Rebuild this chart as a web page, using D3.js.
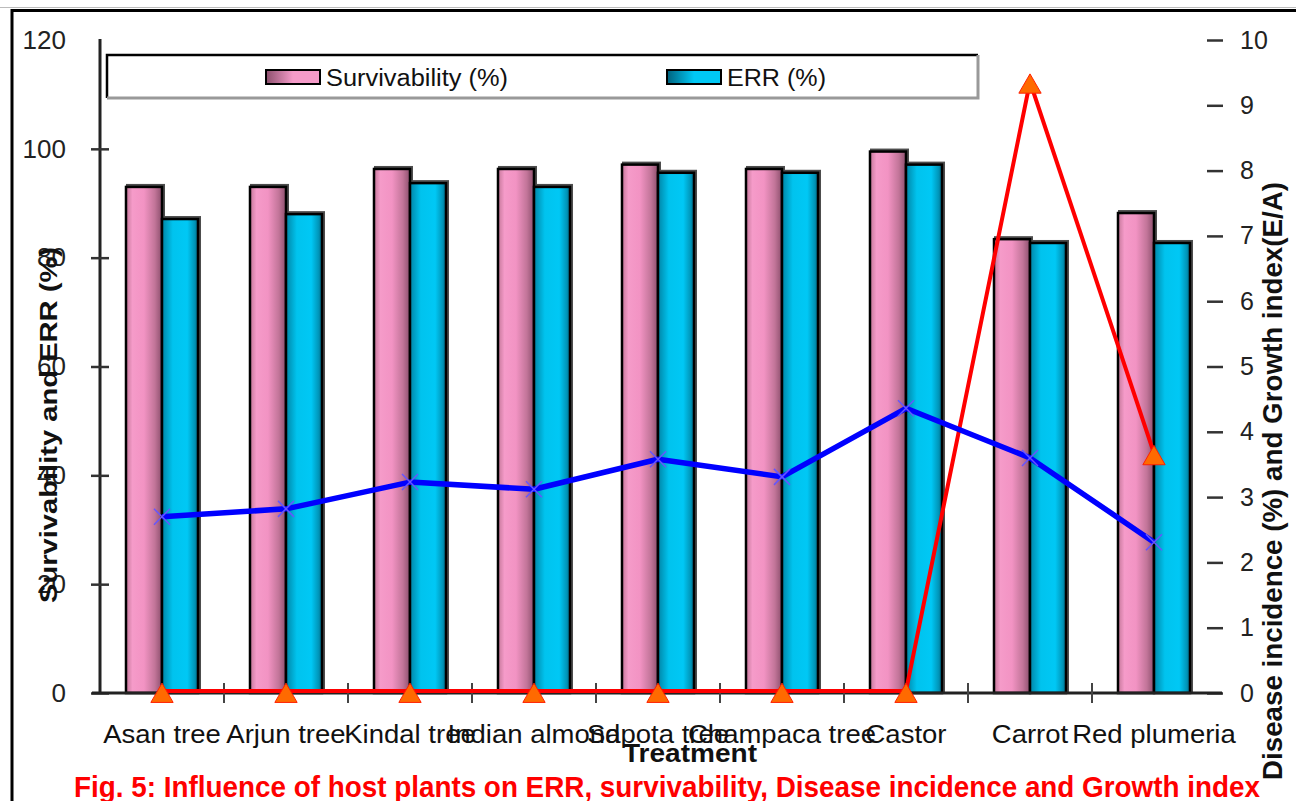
<!DOCTYPE html>
<html>
<head>
<meta charset="utf-8">
<script src="https://cdn.jsdelivr.net/npm/d3@7/dist/d3.min.js"></script>
<style>
  html, body { margin: 0; padding: 0; background: #fff; }
  svg { display: block; font-family: Arial, "Liberation Sans", sans-serif; }
</style>
</head>
<body>
<svg id="chart" width="1296" height="801"></svg>
<script>
// Host plants tested
const categories = ["Asan tree", "Arjun tree", "Kindal tree", "Indian almond", "Sapota tree",
                    "Champaca tree", "Castor", "Carrot", "Red plumeria"];
// Bars, left axis (%)
const survivability = [93.0, 93.0, 96.3, 96.3, 97.1, 96.3, 99.5, 83.4, 88.2];
const errRate       = [87.1, 88.0, 93.7, 93.0, 95.6, 95.6, 97.1, 82.7, 82.7];
// Lines, right axis
const diseaseIncidence = [0, 0, 0, 0, 0, 0, 0, 9.33, 3.64];
const growthIndex      = [2.70, 2.82, 3.23, 3.12, 3.58, 3.31, 4.36, 3.60, 2.31];
// Axis ticks
const leftTicks  = [0, 20, 40, 60, 80, 100, 120];
const rightTicks = [0, 1, 2, 3, 4, 5, 6, 7, 8, 9, 10];
const seriesNames = ["Survivability (%)", "ERR (%)"];

const svg = d3.select("#chart");
const defs = svg.append("defs");

// Stretch text horizontally to mimic the wide lettering
function stretch(sel, k) {
  sel.each(function () {
    const w = this.getComputedTextLength();
    d3.select(this).attr("textLength", w * k).attr("lengthAdjust", "spacingAndGlyphs");
  });
}

// Bar shading gradients
function shade(id, stops) {
  const g = defs.append("linearGradient").attr("id", id)
    .attr("x1", 0).attr("y1", 0).attr("x2", 1).attr("y2", 0);
  stops.forEach(([o, c]) => g.append("stop").attr("offset", o).attr("stop-color", c));
}
shade("gPink", [[0, "#c47799"], [0.18, "#f59bc9"], [0.5, "#f293c3"], [0.8, "#c27599"], [1, "#8c4f6d"]]);
shade("gCyan", [[0, "#0085a6"], [0.3, "#00c3ee"], [0.7, "#00c8f5"], [0.9, "#0097bb"], [1, "#006a86"]]);
shade("gPinkLeg", [[0, "#8c4f6d"], [0.5, "#f59bc9"], [1, "#f59bc9"]]);
shade("gCyanLeg", [[0, "#00617c"], [0.5, "#00c8f5"], [1, "#00c8f5"]]);

// Outer frame
svg.append("line").attr("x1", 0).attr("x2", 1296).attr("y1", 7.5).attr("y2", 7.5)
  .attr("stroke", "#bbb").attr("stroke-width", 1);
svg.append("rect").attr("x", 12).attr("y", 10.5).attr("width", 1400).attr("height", 900)
  .attr("fill", "none").attr("stroke", "#000").attr("stroke-width", 3);

// Scales
const x0 = d3.scaleBand().domain(categories).range([100, 1216]);
const x1 = d3.scaleBand().domain(seriesNames).range([0, x0.bandwidth()]).paddingOuter(0.722);
const yL = d3.scaleLinear().domain([0, 120]).range([693, 40]);
const yR = d3.scaleLinear().domain([0, 10]).range([693, 40]);

// Bars
const barData = categories.flatMap((c, i) => [
  { c, s: seriesNames[0], v: survivability[i], fill: "url(#gPink)" },
  { c, s: seriesNames[1], v: errRate[i], fill: "url(#gCyan)" }
]);
const bars = svg.append("g");
bars.selectAll("rect.shadow").data(barData).join("rect").attr("class", "shadow")
  .attr("x", d => x0(d.c) + x1(d.s))
  .attr("y", d => yL(d.v) - 3)
  .attr("width", x1.bandwidth() + 3)
  .attr("height", d => yL(0) - yL(d.v) + 3)
  .attr("fill", "#4d4d4d");
bars.selectAll("rect.bar").data(barData).join("rect").attr("class", "bar")
  .attr("x", d => x0(d.c) + x1(d.s))
  .attr("y", d => yL(d.v))
  .attr("width", x1.bandwidth())
  .attr("height", d => yL(0) - yL(d.v))
  .attr("fill", d => d.fill)
  .attr("stroke", "#000").attr("stroke-width", 2.5);

// Left axis
const axL = svg.append("g").attr("transform", "translate(100,0)")
  .call(d3.axisLeft(yL).tickValues(leftTicks).tickSize(8).tickPadding(26).tickSizeOuter(0));
axL.select(".domain").attr("stroke", "#222").attr("stroke-width", 3)
  .attr("d", `M0,${yL(120) - 1}V${yL(0)}`);
axL.selectAll(".tick line").attr("x1", 9).attr("x2", -9).attr("stroke", "#333").attr("stroke-width", 2.5)
  .filter(d => d === 120).remove();
axL.selectAll(".tick text").attr("font-size", 26).attr("fill", "#222").attr("font-family", "Arial, sans-serif");

// Right axis (no spine)
const axR = svg.append("g").attr("transform", "translate(1215,0)")
  .call(d3.axisRight(yR).tickValues(rightTicks).tickSize(8).tickPadding(17).tickSizeOuter(0));
axR.select(".domain").remove();
axR.selectAll(".tick line").attr("x1", -8).attr("x2", 8).attr("stroke", "#333").attr("stroke-width", 2.5);
axR.selectAll(".tick text").attr("font-size", 25).attr("fill", "#222").attr("font-family", "Arial, sans-serif");

// Category axis
const axX = svg.append("g");
axX.append("line").attr("x1", 92).attr("x2", 1222).attr("y1", yL(0)).attr("y2", yL(0))
  .attr("stroke", "#222").attr("stroke-width", 3);
axX.selectAll("line.sep").data(categories.slice(1)).join("line").attr("class", "sep")
  .attr("x1", d => x0(d)).attr("x2", d => x0(d))
  .attr("y1", yL(0) - 10).attr("y2", yL(0) + 10)
  .attr("stroke", "#444").attr("stroke-width", 2);
axX.selectAll("text").data(categories).join("text")
  .attr("x", d => x0(d) + x0.bandwidth() / 2).attr("y", 743)
  .attr("text-anchor", "middle").attr("font-size", 25).attr("fill", "#111")
  .text(d => d)
  .call(stretch, 1.1);

// Disease incidence line
const pts = (arr) => arr.map((v, i) => [x0(categories[i]) + x0.bandwidth() / 2, yR(v)]);
const lineGen = d3.line();
svg.append("path").attr("d", lineGen(pts(diseaseIncidence)))
  .attr("fill", "none").attr("stroke", "#ff0000").attr("stroke-width", 4)
  .attr("transform", "translate(0,-2)");
svg.append("g").selectAll("path").data(pts(diseaseIncidence)).join("path")
  .attr("d", d3.symbol(d3.symbolTriangle, 215)())
  .attr("transform", d => `translate(${d[0]},${d[1] + 3})`)
  .attr("fill", "#ff6a00").attr("stroke", "#ff2000").attr("stroke-width", 1);

// Growth index line
svg.append("path").attr("d", lineGen(pts(growthIndex)))
  .attr("fill", "none").attr("stroke", "#0000ff").attr("stroke-width", 5.5)
  .attr("stroke-linejoin", "round");
svg.append("g").selectAll("path").data(pts(growthIndex)).join("path")
  .attr("d", d => `M${d[0] - 8},${d[1] - 8}L${d[0] + 8},${d[1] + 8}M${d[0] - 8},${d[1] + 8}L${d[0] + 8},${d[1] - 8}`)
  .attr("stroke", "#6655ff").attr("stroke-width", 1.5).attr("fill", "none");

// Legend
const leg = svg.append("g");
leg.append("rect").attr("x", 107).attr("y", 55).attr("width", 871).attr("height", 43).attr("fill", "#fff");
leg.append("path").attr("d", "M107,98V55H978").attr("fill", "none").attr("stroke", "#000").attr("stroke-width", 2.5);
leg.append("path").attr("d", "M978,55V98H107").attr("fill", "none").attr("stroke", "#999").attr("stroke-width", 3);
const legItems = [
  { name: seriesNames[0], fill: "url(#gPinkLeg)", sx: 266, tx: 326, tw: 182 },
  { name: seriesNames[1], fill: "url(#gCyanLeg)", sx: 667, tx: 727, tw: 99 }
];
legItems.forEach(it => {
  leg.append("rect").attr("x", it.sx).attr("y", 70).attr("width", 54).attr("height", 14)
    .attr("fill", it.fill).attr("stroke", "#000").attr("stroke-width", 2);
  leg.append("text").attr("x", it.tx).attr("y", 86).attr("font-size", 23).attr("fill", "#111")
    .attr("textLength", it.tw).attr("lengthAdjust", "spacingAndGlyphs").text(it.name);
});

// Axis titles
svg.append("text").attr("transform", "translate(57,425) rotate(-90)")
  .attr("text-anchor", "middle").attr("font-size", 23).attr("font-weight", "bold").attr("fill", "#111")
  .attr("textLength", 356).attr("lengthAdjust", "spacingAndGlyphs")
  .text("Survivability and ERR (%)");
svg.append("text").attr("transform", "translate(1282,481) rotate(-90)")
  .attr("text-anchor", "middle").attr("font-size", 27).attr("font-weight", "bold").attr("fill", "#111")
  .attr("textLength", 598).attr("lengthAdjust", "spacingAndGlyphs")
  .text("Disease incidence (%) and Growth index(E/A)");
svg.append("text").attr("x", 690).attr("y", 762)
  .attr("text-anchor", "middle").attr("font-size", 25).attr("font-weight", "bold").attr("fill", "#111")
  .attr("textLength", 134).attr("lengthAdjust", "spacingAndGlyphs")
  .text("Treatment");

// Figure caption
svg.append("text").attr("x", 667).attr("y", 797)
  .attr("text-anchor", "middle").attr("font-size", 30).attr("font-weight", "bold").attr("fill", "#ff0000")
  .attr("textLength", 1186).attr("lengthAdjust", "spacingAndGlyphs")
  .text("Fig. 5: Influence of host plants on ERR, survivability, Disease incidence and Growth index");
</script>
</body>
</html>
